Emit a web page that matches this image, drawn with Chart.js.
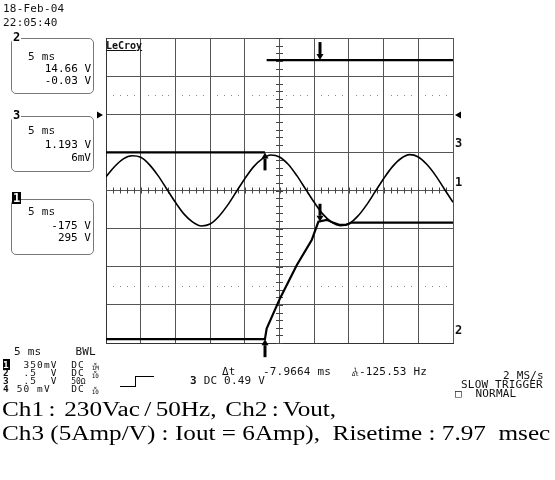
<!DOCTYPE html>
<html>
<head>
<meta charset="utf-8">
<script src="https://cdn.jsdelivr.net/npm/chart.js@4.4.1/dist/chart.umd.min.js"></script>
<style>
  body { margin: 0; background: #fff; }
  #wrap { position: relative; width: 555px; height: 480px; overflow: hidden; }
  .t { position: absolute; font-family: "DejaVu Sans Mono", monospace; font-size: 11px; line-height: 12px; color: #111; white-space: pre; letter-spacing: 0.2px; }
  .row { font-size: 9.5px; line-height: 9px; letter-spacing: 1.1px; }
  .box { position: absolute; left: 11px; width: 81px; height: 54px; border: 1px solid #777; border-radius: 5px; }
  .lab { position: absolute; left: 0px; top: -8px; background: #fff; font-family: "DejaVu Sans Mono", monospace; font-weight: bold; font-size: 12px; line-height: 12px; padding: 0 1px; }
  .inv { background: #000; color: #fff; }
  .r { position: absolute; right: 2px; font-family: "DejaVu Sans Mono", monospace; font-size: 11px; line-height: 12px; white-space: pre; }
  .cap { position: absolute; left: 2px; font-family: "Liberation Serif", serif; font-size: 20px; line-height: 24px; white-space: pre; color: #000; transform: scaleX(1.26); transform-origin: 0 0; }
  .sm { display: inline-block; font-size: 6px; line-height: 4px; letter-spacing: 0; vertical-align: middle; text-align: center; }
  .b { font-weight: bold; }
  .step { position: absolute; border-color: #000; border-style: solid; border-width: 0; }
</style>
</head>
<body>
<div id="wrap">
  <canvas id="scope" width="555" height="480"></canvas>

  <div class="t" style="left:3px;top:3px">18-Feb-04</div>
  <div class="t" style="left:3px;top:17px">22:05:40</div>

  <div class="box" style="top:38px">
    <div class="lab">2</div>
    <div class="t" style="left:16px;top:12px">5 ms</div>
    <div class="r" style="top:24px">14.66 V</div>
    <div class="r" style="top:36px">-0.03 V</div>
  </div>
  <div class="box" style="top:116px">
    <div class="lab">3</div>
    <div class="t" style="left:16px;top:8px">5 ms</div>
    <div class="r" style="top:22px">1.193 V</div>
    <div class="r" style="top:35px">6mV</div>
  </div>
  <div class="box" style="top:199px">
    <div class="lab inv">1</div>
    <div class="t" style="left:16px;top:6px">5 ms</div>
    <div class="r" style="top:20px">-175 V</div>
    <div class="r" style="top:32px">295 V</div>
  </div>

  <div class="t" style="left:106px;top:40px;font-weight:bold;font-size:10px;text-decoration:underline;letter-spacing:0">LeCroy</div>
  <div class="t b" style="left:455px;top:137px;font-size:12px">3</div>
  <div class="t b" style="left:455px;top:176px;font-size:12px">1</div>
  <div class="t b" style="left:455px;top:324px;font-size:12px">2</div>

  <div class="t" style="left:14px;top:346px">5 ms     BWL</div>
  <div class="t row" style="left:3px;top:360px"><span class="b inv">1</span>  350mV  DC <span class="sm">×<br>1M</span></div>
  <div class="t row" style="left:3px;top:368px"><span class="b">2</span>  .5  V  DC <span class="sm">×<br>10</span></div>
  <div class="t row" style="left:3px;top:376px"><span class="b">3</span>  .5  V  <span style="font-size:8px;letter-spacing:0">50Ω</span></div>
  <div class="t row" style="left:3px;top:384px"><span class="b">4</span> 50 mV   DC <span class="sm">×<br>10</span></div>

  <div class="step" style="left:120px;top:376px;width:15px;height:10px;border-bottom-width:1px;border-right-width:1px"></div>
  <div class="step" style="left:135px;top:376px;width:19px;height:0;border-top-width:1px"></div>
  <div class="t" style="left:190px;top:375px"><span class="b">3</span> DC 0.49 V</div>
  <div class="t" style="left:222px;top:366px">Δt    -7.9664 ms   <span class="sm">1<br>Δt</span>-125.53 Hz</div>

  <div class="t" style="left:503px;top:370px">2 MS/s</div>
  <div class="t" style="left:461px;top:379px">SLOW TRIGGER</div>
  <div class="t" style="left:455px;top:388px">□  NORMAL</div>

  <div class="cap" style="top:397px;word-spacing:-1.5px">Ch1 :  230Vac / 50Hz,  Ch2 : Vout,</div>
  <div class="cap" style="top:421px">Ch3 (5Amp/V) : Iout = 6Amp),  Risetime : 7.97  msec</div>
</div>

<script>
// time in ms (5 ms/div), amplitude in divisions
const ch1Time = [-25, -23.75, -22.5, -21.25, -20, -18.75, -17.5, -16.25, -15, -13.75, -12.5, -11.25, -10, -8.75, -7.5, -6.25, -5, -3.75, -2.5, -1.25, 0, 1.25, 2.5, 3.75, 5, 6.25, 7.5, 8.75, 10, 11.25, 12.5, 13.75, 15, 16.25, 17.5, 18.75, 20, 21.25, 22.5, 23.75, 25];
const ch1Div = [0.36, 0.63, 0.83, 0.91, 0.87, 0.68, 0.39, 0.04, -0.31, -0.62, -0.83, -0.93, -0.88, -0.68, -0.39, -0.04, 0.31, 0.62, 0.83, 0.93, 0.88, 0.69, 0.39, 0.04, -0.31, -0.62, -0.83, -0.92, -0.87, -0.68, -0.39, -0.04, 0.31, 0.62, 0.84, 0.94, 0.88, 0.68, 0.39, 0.04, -0.31];

const ch2Time = [-25, -2.1, -1.85, 0.07, 2.48, 4.64, 5.6, 6.8, 7.7, 8.6, 9.6, 10.4, 25];
const ch2Div = [-3.9, -3.9, -3.62, -2.83, -1.96, -1.3, -0.82, -0.77, -0.84, -0.9, -0.9, -0.84, -0.84];

const ch3Time = [-25, -2.1, -2.0, -1.85, 25];
const ch3Div = [1.0, 1.0, null, 3.42, 3.42];

const cursorTimes = [-2.1, 5.87];
const cursorUpLevels = [-3.9, 1.0];
const cursorDownLevels = [3.42, -0.82];
const trigLevel = 1.98;
const dotLevels = [2.5, -2.5];

function pts(xs, ys) {
  return xs.map((x, i) => ({ x: x, y: ys[i] }));
}

const scopeDeco = {
  id: 'scopeDeco',
  beforeDatasetsDraw(chart) {
    const ctx = chart.ctx, sx = chart.scales.x, sy = chart.scales.y;
    const cx = sx.getPixelForValue(0), cy = sy.getPixelForValue(0);
    ctx.save();
    ctx.strokeStyle = '#444';
    ctx.lineWidth = 1;
    ctx.beginPath();
    for (let k = -20; k <= 20; k++) {
      const y = Math.round(sy.getPixelForValue(k / 5)) + 0.5;
      ctx.moveTo(cx - 3.5, y); ctx.lineTo(cx + 3.5, y);
    }
    for (let t = -25; t <= 25; t++) {
      const x = Math.round(sx.getPixelForValue(t)) + 0.5;
      ctx.moveTo(x, cy - 3); ctx.lineTo(x, cy + 3);
    }
    ctx.stroke();
    ctx.fillStyle = '#888';
    dotLevels.forEach(lv => {
      const y = sy.getPixelForValue(lv);
      for (let t = -25; t <= 25; t++) {
        if (t % 5 === 0) continue;
        ctx.fillRect(Math.round(sx.getPixelForValue(t)), Math.round(y), 1, 1);
      }
    });
    ctx.restore();
  },
  afterDatasetsDraw(chart) {
    const ctx = chart.ctx, sx = chart.scales.x, sy = chart.scales.y;
    ctx.save();
    ctx.fillStyle = '#000';
    ctx.strokeStyle = '#000';
    ctx.lineWidth = 3;
    function arrow(x, tipY, dir) {
      const len = 18, h = 6;
      ctx.beginPath();
      ctx.moveTo(x, tipY + dir * h);
      ctx.lineTo(x, tipY + dir * len);
      ctx.stroke();
      ctx.beginPath();
      ctx.moveTo(x, tipY);
      ctx.lineTo(x - 3.5, tipY + dir * h);
      ctx.lineTo(x + 3.5, tipY + dir * h);
      ctx.closePath();
      ctx.fill();
    }
    const x1 = Math.round(sx.getPixelForValue(cursorTimes[0]));
    cursorUpLevels.forEach(lv => arrow(x1, sy.getPixelForValue(lv), 1));
    const x2 = Math.round(sx.getPixelForValue(cursorTimes[1]));
    cursorDownLevels.forEach(lv => arrow(x2, sy.getPixelForValue(lv), -1));
    // trigger level markers
    const ty = sy.getPixelForValue(trigLevel);
    const l = chart.chartArea.left, r = chart.chartArea.right;
    ctx.beginPath();
    ctx.moveTo(l - 9, ty - 3.5); ctx.lineTo(l - 3, ty); ctx.lineTo(l - 9, ty + 3.5); ctx.closePath(); ctx.fill();
    ctx.beginPath();
    ctx.moveTo(r + 8, ty - 3.5); ctx.lineTo(r + 2, ty); ctx.lineTo(r + 8, ty + 3.5); ctx.closePath(); ctx.fill();
    ctx.restore();
  }
};

new Chart(document.getElementById('scope'), {
  type: 'line',
  data: {
    datasets: [
      { label: 'Ch1', data: pts(ch1Time, ch1Div), borderColor: '#000', borderWidth: 1.6, pointRadius: 0, cubicInterpolationMode: 'monotone' },
      { label: 'Ch2', data: pts(ch2Time, ch2Div), borderColor: '#000', borderWidth: 2.2, pointRadius: 0 },
      { label: 'Ch3', data: pts(ch3Time, ch3Div), borderColor: '#000', borderWidth: 2.2, pointRadius: 0, spanGaps: false }
    ]
  },
  options: {
    responsive: false,
    animation: false,
    events: [],
    layout: { padding: { left: 106, right: 102, top: 38, bottom: 137 } },
    plugins: { legend: { display: false }, tooltip: { enabled: false } },
    scales: {
      x: {
        type: 'linear', min: -25, max: 25,
        ticks: { display: false, stepSize: 5 },
        grid: { color: '#555', lineWidth: 1, drawTicks: false },
        border: { display: true, color: '#333', width: 1 }
      },
      y: {
        type: 'linear', min: -4, max: 4,
        ticks: { display: false, stepSize: 1 },
        grid: { color: '#555', lineWidth: 1, drawTicks: false },
        border: { display: true, color: '#333', width: 1 }
      }
    }
  },
  plugins: [scopeDeco]
});
</script>
</body>
</html>
